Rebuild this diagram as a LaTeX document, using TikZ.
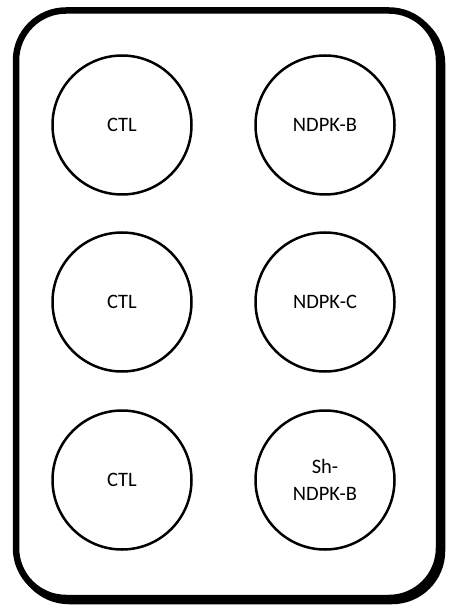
\documentclass[tikz,border=0pt]{standalone}
\usepackage{fontspec}
\setmainfont{Carlito}
\begin{document}
\begin{tikzpicture}[x=1pt,y=-1pt,
  well/.style={circle,draw=black,line width=2.5pt,minimum size=139pt,inner sep=0pt,align=center,font=\fontsize{20.5}{27}\selectfont},
  frame/.style={line width=6.5pt,rounded corners=50pt}]
\useasboundingbox (0,0) rectangle (448,609);
\draw[frame,draw=black] (19,13.5) rectangle (442,601);
\draw[frame,draw=black,fill=white] (16,10.5) rectangle (439,598);
\node[well] (a1) at (122,125) {CTL};
\node[well] (b1) at (325,125) {NDPK-B};
\node[well] (a2) at (122,302) {CTL};
\node[well] (b2) at (325,302) {NDPK-C};
\node[well] (a3) at (122,480) {CTL};
\node[well] (b3) at (325,480) {Sh-\\NDPK-B};
\end{tikzpicture}
\end{document}
